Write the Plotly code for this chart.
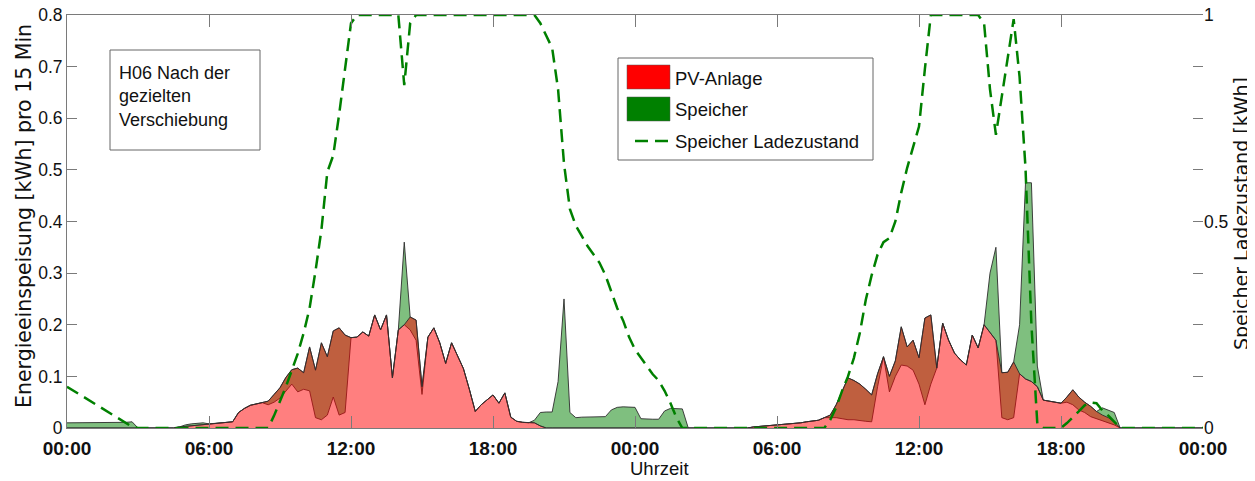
import plotly.graph_objects as go

# ---------------- data (15-min resolution, two days) ----------------
zeit_h = [i * 0.25 for i in range(193)]
x_tickvals = [0, 6, 12, 18, 24, 30, 36, 42, 48]
x_ticktext = ["00:00", "06:00", "12:00", "18:00", "00:00",
              "06:00", "12:00", "18:00", "00:00"]

# PV-Anlage: total red area [kWh per 15 min]
pv_anlage = [
    0, 0, 0, 0, 0, 0, 0, 0, 0, 0, 0, 0,                                                      # 00-03
    0, 0, 0, 0, 0, 0, 0, 0.002, 0.003, 0.004, 0.005, 0.007,                                  # 03-06
    0.008, 0.009, 0.010, 0.011, 0.012, 0.030, 0.038, 0.044, 0.047, 0.049, 0.052, 0.065,      # 06-09
    0.078, 0.098, 0.113, 0.116, 0.107, 0.157, 0.112, 0.165, 0.138, 0.188, 0.194, 0.180,      # 09-12
    0.175, 0.176, 0.186, 0.178, 0.219, 0.190, 0.219, 0.097, 0.190, 0.200, 0.215, 0.209,      # 12-15
    0.080, 0.176, 0.194, 0.165, 0.125, 0.165, 0.141, 0.115, 0.075, 0.032, 0.045, 0.055,      # 15-18
    0.064, 0.048, 0.068, 0.021, 0.013, 0.011, 0.010, 0.010, 0.004, 0, 0, 0,                  # 18-21
    0, 0, 0, 0, 0, 0, 0, 0, 0, 0, 0, 0,                                                      # 21-24
    0, 0, 0, 0, 0, 0, 0, 0, 0, 0, 0, 0,                                                      # 00-03
    0, 0, 0, 0, 0, 0, 0, 0, 0.002, 0.003, 0.004, 0.004,                                      # 03-06
    0.005, 0.006, 0.007, 0.008, 0.010, 0.012, 0.013, 0.015, 0.020, 0.025, 0.045, 0.070,      # 06-09
    0.097, 0.092, 0.085, 0.075, 0.064, 0.105, 0.138, 0.100, 0.130, 0.196, 0.157, 0.170,      # 09-12
    0.136, 0.213, 0.219, 0.116, 0.203, 0.170, 0.145, 0.132, 0.122, 0.180, 0.155, 0.200,      # 12-15
    0.185, 0.170, 0.107, 0.108, 0.128, 0.105, 0.095, 0.090, 0.080, 0.054, 0.052, 0.050,      # 15-18
    0.048, 0.060, 0.074, 0.060, 0.050, 0.042, 0.032, 0.025, 0.020, 0.012, 0, 0,              # 18-21
    0, 0, 0, 0, 0, 0, 0, 0, 0, 0, 0, 0,                                                      # 21-24
    0,
]

# lower edge of the Speicher band (= direct PV feed-in)
speicher_basis = [
    0, 0, 0, 0, 0, 0, 0, 0, 0, 0, 0, 0,
    0, 0, 0, 0, 0, 0, 0, 0.002, 0.003, 0.004, 0.005, 0.007,
    0.008, 0.009, 0.010, 0.011, 0.012, 0.030, 0.038, 0.044, 0.047, 0.049, 0.045, 0.050,
    0.058, 0.072, 0.085, 0.070, 0.075, 0.072, 0.020, 0.016, 0.025, 0.060, 0.025, 0.030,
    0.175, 0.176, 0.186, 0.178, 0.219, 0.190, 0.219, 0.097, 0.190, 0.200, 0.190, 0.170,
    0.065, 0.176, 0.194, 0.165, 0.125, 0.165, 0.141, 0.115, 0.075, 0.032, 0.045, 0.055,
    0.064, 0.048, 0.068, 0.021, 0.013, 0.011, 0.010, 0.010, 0.004, 0, 0, 0,
    0, 0, 0, 0, 0, 0, 0, 0, 0, 0, 0, 0,
    0, 0, 0, 0, 0, 0, 0, 0, 0, 0, 0, 0,
    0, 0, 0, 0, 0, 0, 0, 0, 0.002, 0.003, 0.004, 0.004,
    0.005, 0.006, 0.007, 0.008, 0.010, 0.012, 0.013, 0.015, 0.020, 0.020, 0.020, 0.018,
    0.016, 0.016, 0.014, 0.013, 0.012, 0.080, 0.138, 0.070, 0.100, 0.122, 0.120, 0.112,
    0.085, 0.045, 0.085, 0.116, 0.203, 0.170, 0.145, 0.132, 0.122, 0.180, 0.155, 0.200,
    0.185, 0.170, 0.020, 0.016, 0.020, 0.105, 0.095, 0.090, 0.080, 0.054, 0.052, 0.050,
    0.048, 0.050, 0.045, 0.035, 0.030, 0.022, 0.018, 0.015, 0.010, 0.006, 0, 0,
    0, 0, 0, 0, 0, 0, 0, 0, 0, 0, 0, 0,
    0,
]

# Speicher energy [kWh per 15 min] (thickness of the green band)
speicher = [
    0.010, 0.010, 0.010, 0.010, 0.010, 0.010, 0.010, 0.010, 0.010, 0.010, 0.011, 0.012,
    0, 0, 0, 0, 0, 0, 0, 0, 0.003, 0.004, 0.004, 0.003,
    0, 0, 0, 0, 0, 0, 0, 0, 0, 0, 0.007, 0.015,
    0.020, 0.026, 0.028, 0.046, 0.032, 0.085, 0.092, 0.149, 0.113, 0.128, 0.169, 0.150,
    0, 0, 0, 0, 0, 0, 0, 0, 0, 0.160, 0.025, 0.039,
    0.015, 0, 0, 0, 0, 0, 0, 0, 0, 0, 0, 0,
    0, 0, 0, 0, 0, 0, 0, 0.005, 0.026, 0.031, 0.031, 0.090,
    0.250, 0.030, 0.020, 0.021, 0.021, 0.021, 0.021, 0.022, 0.035, 0.040, 0.041, 0.041,
    0.040, 0.018, 0.017, 0.017, 0.017, 0.033, 0.038, 0.038, 0.037, 0, 0, 0,
    0, 0, 0, 0, 0, 0, 0, 0, 0, 0, 0, 0,
    0, 0, 0, 0, 0, 0, 0, 0, 0, 0.005, 0.025, 0.052,
    0.081, 0.076, 0.071, 0.062, 0.052, 0.025, 0, 0.030, 0.030, 0.074, 0.037, 0.058,
    0.051, 0.168, 0.134, 0, 0, 0, 0, 0, 0, 0, 0, 0,
    0.115, 0.180, 0.087, 0.092, 0.108, 0.095, 0.380, 0.385, 0.040, 0, 0, 0,
    0, 0.010, 0.029, 0.025, 0.020, 0.020, 0.014, 0.024, 0.025, 0.024, 0, 0,
    0, 0, 0, 0, 0, 0, 0, 0, 0, 0, 0, 0,
    0,
]

# Speicher Ladezustand [kWh] (right axis)
ladezustand = [
    0.100, 0.091, 0.082, 0.073, 0.064, 0.055, 0.046, 0.037, 0.028, 0.019, 0.010, 0.003,
    0, 0, 0, 0, 0, 0, 0, 0, 0, 0, 0, 0,
    0, 0, 0, 0, 0, 0, 0, 0, 0, 0, 0.000, 0.030,
    0.065, 0.100, 0.140, 0.180, 0.230, 0.290, 0.380, 0.480, 0.620, 0.660, 0.760, 0.870,
    0.980, 1, 1, 1, 1, 1, 1, 1, 1, 0.830, 0.980, 1,
    1, 1, 1, 1, 1, 1, 1, 1, 1, 1, 1, 1,
    1, 1, 1, 1, 1, 1, 1, 1, 0.980, 0.950, 0.920, 0.820,
    0.640, 0.530, 0.490, 0.465, 0.440, 0.420, 0.400, 0.370, 0.330, 0.290, 0.260, 0.220,
    0.190, 0.170, 0.150, 0.130, 0.115, 0.090, 0.060, 0.025, 0, 0, 0, 0,
    0, 0, 0, 0, 0, 0, 0, 0, 0, 0, 0, 0,
    0, 0, 0, 0, 0, 0, 0, 0, 0, 0.020, 0.050, 0.090,
    0.125, 0.170, 0.230, 0.310, 0.370, 0.420, 0.450, 0.460, 0.500, 0.570, 0.630, 0.680,
    0.730, 0.870, 1, 1, 1, 1, 1, 1, 1, 1, 1, 0.980,
    0.820, 0.710, 0.800, 0.900, 0.990, 0.850, 0.630, 0.250, 0.010, 0, 0, 0,
    0, 0.012, 0.025, 0.040, 0.055, 0.062, 0.060, 0.042, 0.030, 0.015, 0, 0,
    0, 0, 0, 0, 0, 0, 0, 0, 0, 0, 0, 0,
    0,
]

y_tickvals_right = [0, 0.125, 0.25, 0.375, 0.5, 0.625, 0.75, 0.875, 1]
y_ticktext_right = ["0", "", "", "", "0.5", "", "", "", "1"]

speicher_oben = [b + s for b, s in zip(speicher_basis, speicher)]

# ---------------- styling ----------------
# the page body adds an 8 px offset, so the figure is made 8 px smaller
OFF = 8
W, H = 1255 - OFF, 481 - OFF
PL, PR, PT, PB = 67, 1203, 15, 428          # plot area in screen pixels
EDGE = "rgba(45,45,45,0.9)"
AXC = "#7a7a7a"
FONT = "Liberation Sans, Arial, sans-serif"


def px(x):
    return (x - PL) / (PR - PL)


def py(y):
    return (PB - y) / (PB - PT)


fig = go.Figure()
fig.add_trace(go.Scatter(x=zeit_h, y=speicher_basis, mode="lines",
                         line=dict(color=EDGE, width=1), showlegend=False,
                         hoverinfo="skip"))
fig.add_trace(go.Scatter(x=zeit_h, y=speicher_oben, mode="lines", fill="tonexty",
                         fillcolor="rgba(0,128,0,0.5)",
                         line=dict(color=EDGE, width=1), name="Speicher",
                         showlegend=False))
fig.add_trace(go.Scatter(x=zeit_h, y=pv_anlage, mode="lines", fill="tozeroy",
                         fillcolor="rgba(255,0,0,0.5)",
                         line=dict(color=EDGE, width=1), name="PV-Anlage",
                         showlegend=False))
fig.add_trace(go.Scatter(x=zeit_h, y=ladezustand, mode="lines", yaxis="y2",
                         line=dict(color="rgb(0,128,0)", width=2.5, dash="13px,7px"),
                         name="Speicher Ladezustand", showlegend=False))

shapes = []
annotations = []

# info box
shapes.append(dict(type="rect", xref="paper", yref="paper",
                   x0=px(110), x1=px(260), y0=py(150), y1=py(50),
                   line=dict(color="#666", width=1), fillcolor="white", layer="above"))
annotations.append(dict(xref="paper", yref="paper", x=px(117), y=py(96),
                        xanchor="left", yanchor="middle", align="left", showarrow=False,
                        text="H06 Nach der<br>gezielten<br>Verschiebung",
                        font=dict(family=FONT, size=18, color="#111")))

# legend (drawn manually to match swatch sizes)
shapes.append(dict(type="rect", xref="paper", yref="paper",
                   x0=px(618), x1=px(873), y0=py(160), y1=py(58),
                   line=dict(color="#666", width=1), fillcolor="white", layer="above"))
shapes.append(dict(type="rect", xref="paper", yref="paper",
                   x0=px(627), x1=px(670), y0=py(89), y1=py(65),
                   line=dict(color="#555", width=0.5), fillcolor="#ff0000", layer="above"))
shapes.append(dict(type="rect", xref="paper", yref="paper",
                   x0=px(627), x1=px(670), y0=py(121), y1=py(97),
                   line=dict(color="#555", width=0.5), fillcolor="#008000", layer="above"))
shapes.append(dict(type="line", xref="paper", yref="paper",
                   x0=px(635), x1=px(668), y0=py(141), y1=py(141),
                   line=dict(color="rgb(0,128,0)", width=2.5, dash="13px,7px"),
                   layer="above"))
for label, yc in [("PV-Anlage", 78), ("Speicher", 109), ("Speicher Ladezustand", 141)]:
    annotations.append(dict(xref="paper", yref="paper", x=px(673), y=py(yc),
                            xanchor="left", yanchor="middle", showarrow=False,
                            text=label, font=dict(family=FONT, size=18.5, color="#111")))

# axis titles
annotations.append(dict(xref="paper", yref="paper", x=px(24), y=py(216),
                        xanchor="center", yanchor="middle", textangle=-90,
                        showarrow=False, text="Energieeinspeisung [kWh] pro 15 Min",
                        font=dict(family="DejaVu Sans, sans-serif", size=20.5, color="#111")))
annotations.append(dict(xref="paper", yref="paper", x=px(1241), y=py(214),
                        xanchor="center", yanchor="middle", textangle=-90,
                        showarrow=False, text="Speicher Ladezustand [kWh]",
                        font=dict(family="DejaVu Sans, sans-serif", size=19, color="#111")))
annotations.append(dict(xref="paper", yref="paper", x=px(659), y=py(469),
                        xanchor="center", yanchor="middle", showarrow=False,
                        text="Uhrzeit",
                        font=dict(family=FONT, size=18.5, color="#111")))

fig.update_layout(
    width=W, height=H,
    margin=dict(l=PL - OFF, r=(W + OFF) - PR, t=PT - OFF, b=(H + OFF) - PB,
                autoexpand=False),
    paper_bgcolor="white", plot_bgcolor="white",
    showlegend=False,
    shapes=shapes, annotations=annotations,
    xaxis=dict(range=[0, 48], tickvals=x_tickvals, ticktext=x_ticktext,
               ticks="inside", ticklen=12, tickcolor=AXC, showline=True,
               linecolor=AXC, linewidth=1, mirror="ticks", showgrid=False,
               zeroline=False, ticklabelstandoff=3, ticklabeloverflow="allow",
               tickfont=dict(family=FONT, size=19, color="#111", weight="bold")),
    yaxis=dict(range=[0, 0.8], tick0=0, dtick=0.1, ticks="inside", ticklen=10,
               tickcolor=AXC, showline=True, linecolor=AXC, linewidth=1,
               showgrid=False, zeroline=False, ticklabeloverflow="allow",
               tickfont=dict(family=FONT, size=17.5, color="#111")),
    yaxis2=dict(range=[0, 1], overlaying="y", side="right",
                tickvals=y_tickvals_right, ticktext=y_ticktext_right,
                ticks="inside", ticklen=10, tickcolor=AXC, showline=False,
                showgrid=False, zeroline=False, ticklabeloverflow="allow",
                tickfont=dict(family=FONT, size=17.5, color="#111")),
)

fig.write_html("out.html")
